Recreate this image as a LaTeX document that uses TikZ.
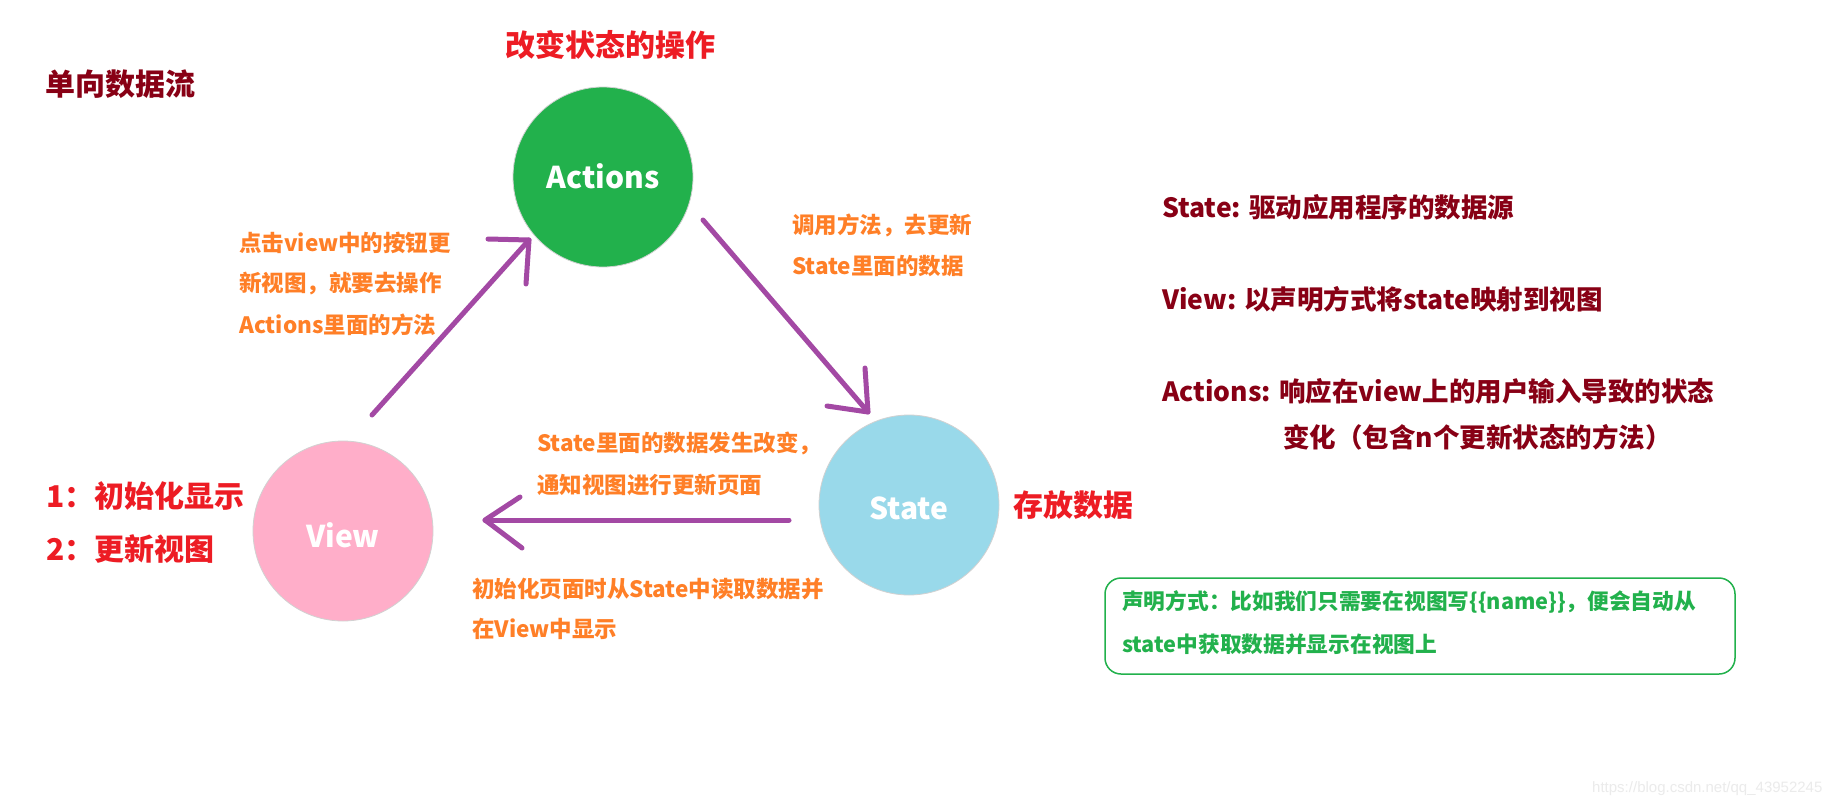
\documentclass[tikz,border=0pt]{standalone}
\usepackage{fontspec}
\setmainfont{Noto Sans CJK SC}
\newfontfamily\wmfont{Liberation Sans}
\definecolor{cgreen}{HTML}{22B14C}
\definecolor{cpink}{HTML}{FFAEC9}
\definecolor{cblue}{HTML}{99D9EA}
\definecolor{cpurple}{HTML}{A349A4}
\definecolor{corange}{HTML}{FF7F27}
\definecolor{cred}{HTML}{ED1C24}
\definecolor{cdark}{HTML}{880015}
\tikzset{
  bubble/.style={circle, minimum size=180pt, inner sep=0pt, draw=black!18, line width=0.8pt, text=white, font=\fontsize{30}{30}\selectfont\bfseries, text depth=0pt},
  redlabel/.style={anchor=west, inner sep=0pt, text=cred, font=\fontsize{30}{30}\selectfont\bfseries},
  darklabel/.style={anchor=west, inner sep=0pt, text=cdark, font=\fontsize{26.5}{26.5}\selectfont\bfseries},
  orangelabel/.style={anchor=west, inner sep=0pt, text=corange, font=\fontsize{22.5}{22.5}\selectfont\bfseries},
  greenlabel/.style={anchor=west, inner sep=0pt, text=cgreen, font=\fontsize{21.7}{21.7}\selectfont\bfseries},
  flow/.style={draw=cpurple, line width=5pt, line cap=round, line join=round},
  notebox/.style={draw=cgreen, line width=1.5pt, rounded corners=16pt}
}
\begin{document}
\begin{tikzpicture}[x=1pt,y=-1pt]
\useasboundingbox (0,0) rectangle (1844,806);
\fill[white] (0,0) rectangle (1844,806);

% circles
\node[bubble, fill=cgreen, text height=23pt] (actions) at (603,177) {Actions};
\node[bubble, fill=cpink, text height=33pt] (view) at (343,531) {View};
\node[bubble, fill=cblue, text height=29pt] (state) at (909,505) {State};

% titles
\node[darklabel, font=\fontsize{30}{30}\selectfont\bfseries] (title) at (45,84) {单向数据流};
\node[redlabel] (actlabel) at (505,45) {改变状态的操作};
\node[redlabel] (statelabel) at (1013,505) {存放数据};
\node[redlabel] (view1) at (46,496) {1：初始化显示};
\node[redlabel] (view2) at (46,549) {2：更新视图};

% arrow coordinates
\coordinate (a1s) at (372,415);
\coordinate (a1t) at (529,240);
\coordinate (a1l) at (488,239);
\coordinate (a1d) at (526,284);
\coordinate (a2s) at (703,220);
\coordinate (a2t) at (868,412);
\coordinate (a2u) at (865,368);
\coordinate (a2l) at (827,406);
\coordinate (a3s) at (789,520);
\coordinate (a3t) at (485,520);
\coordinate (a3u) at (520,497);
\coordinate (a3d) at (522,548);

\draw[flow] (a1s) -- (a1t);
\draw[flow] (a1l) -- (a1t) -- (a1d);
\draw[flow] (a2s) -- (a2t);
\draw[flow] (a2u) -- (a2t) -- (a2l);
\draw[flow] (a3s) -- (a3t);
\draw[flow] (a3u) -- (a3t) -- (a3d);

% orange notes
\node[orangelabel] (n1a) at (239,243) {点击view中的按钮更};
\node[orangelabel] (n1b) at (239,284) {新视图，就要去操作};
\node[orangelabel] (n1c) at (239,325) {Actions里面的方法};
\node[orangelabel] (n2a) at (792,225) {调用方法，去更新};
\node[orangelabel] (n2b) at (792,266) {State里面的数据};
\node[orangelabel] (n3a) at (537,443) {State里面的数据发生改变，};
\node[orangelabel] (n3b) at (537,485) {通知视图进行更新页面};
\node[orangelabel] (n4a) at (472,589) {初始化页面时从State中读取数据并};
\node[orangelabel] (n4b) at (472,629) {在View中显示};

% definitions
\node[darklabel] (d1) at (1162,207) {State: 驱动应用程序的数据源};
\node[darklabel] (d2) at (1162,299) {View: 以声明方式将state映射到视图};
\node[darklabel] (d3) at (1162,391) {Actions: 响应在view上的用户输入导致的状态};
\node[darklabel] (d4) at (1283,437) {变化（包含n个更新状态的方法）};

% note box
\draw[notebox] (1105,578) rectangle (1735,674);
\node[greenlabel] (g1) at (1122,602) {声明方式：比如我们只需要在视图写\{\{name\}\}，便会自动从};
\node[greenlabel] (g2) at (1122,644) {state中获取数据并显示在视图上};

% watermark
\node[anchor=west, inner sep=0pt, text=black!8, font=\wmfont\fontsize{15}{15}\selectfont] (wm) at (1592,789) {https://blog.csdn.net/qq\_43952245};
\end{tikzpicture}
\end{document}
